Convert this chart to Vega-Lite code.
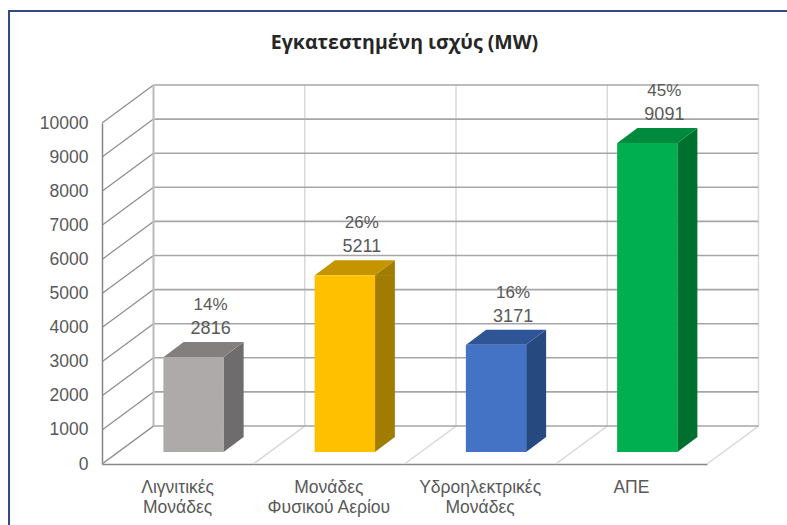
{"$schema":"https://vega.github.io/schema/vega-lite/v6.json","width":605,"height":341,"autosize":"none","padding":{"left":102,"top":123,"right":80,"bottom":61},"background":"white","view":{"stroke":null},
"config":{"axisY":{"labelFont":"Liberation Sans","labelFontSize":17.5,"labelColor":"#595959","labelPadding":14,"labelOverlap":false,"labelBound":false,"tickSize":0,"domainColor":"#868686","domainWidth":1.5,"grid":false}},
"title":{"text":"Εγκατεστημένη ισχύς (MW)","font":"Open Sans","fontSize":19.5,"fontWeight":"bold","color":"#262626","anchor":"middle","offset":-46},
"datasets":{"bars":[{"cat":"Λιγνιτικές Μονάδες","value":2816,"share":"14%"},{"cat":"Μονάδες Φυσικού Αερίου","value":5211,"share":"26%"},{"cat":"Υδροηλεκτρικές Μονάδες","value":3171,"share":"16%"},{"cat":"ΑΠΕ","value":9091,"share":"45%"}],
"ticks":[{"tick":0},{"tick":1000},{"tick":2000},{"tick":3000},{"tick":4000},{"tick":5000},{"tick":6000},{"tick":7000},{"tick":8000},{"tick":9000},{"tick":10000}]},
"resolve":{"scale":{"color":"independent"}},
"layer":[
{"data":{"name":"bars"},"mark":{"type":"point","shape":"M-75.6,0 L-24.1,-38 V-379","size":4,"filled":false,"opacity":1,"color":"#d9d9d9","strokeWidth":1.5},
 "encoding":{"x":{"field":"cat","type":"nominal","sort":null,"scale":{"paddingInner":0,"paddingOuter":0},"axis":{"title":null,"labelExpr":"split(replace(datum.label,' ','|'),'|')","labelAngle":0,"labelFont":"Liberation Sans","labelFontSize":17.5,"labelColor":"#595959","labelLineHeight":20.5,"labelPadding":14,"labelBaseline":"top","labelAlign":"center","labelOverlap":false,"labelBound":false,"labelLimit":0,"tickSize":0,"domainColor":"#868686","domainWidth":1.5,"grid":false}},
 "y":{"datum":0,"type":"quantitative","scale":{"domain":[0,10000],"nice":false},"axis":{"title":null,"format":"d","values":[0,1000,2000,3000,4000,5000,6000,7000,8000,9000,10000]}}}},
{"data":{"name":"bars"},"transform":[{"filter":"datum.cat === 'ΑΠΕ'"}],"mark":{"type":"point","shape":"M75.6,0 L127.1,-38 V-379","size":4,"filled":false,"opacity":1,"color":"#d9d9d9","strokeWidth":1.5},
 "encoding":{"x":{"field":"cat","type":"nominal","sort":null},"y":{"datum":0,"type":"quantitative","axis":{"title":null,"format":"d","values":[0,1000,2000,3000,4000,5000,6000,7000,8000,9000,10000]}}}},
{"data":{"name":"ticks"},"mark":{"type":"point","shape":"M-24.1,-38 H580.9","size":4,"filled":false,"opacity":1,"color":"#a6a6a6","strokeWidth":1.6},
 "encoding":{"x":{"datum":"Λιγνιτικές Μονάδες","type":"nominal"},"y":{"field":"tick","type":"quantitative","axis":{"title":null,"format":"d","values":[0,1000,2000,3000,4000,5000,6000,7000,8000,9000,10000]}}}},
{"data":{"name":"ticks"},"mark":{"type":"point","shape":"M-75.6,0 L-24.1,-38","size":4,"filled":false,"opacity":1,"color":"#8c8c8c","strokeWidth":1.2},
 "encoding":{"x":{"datum":"Λιγνιτικές Μονάδες","type":"nominal"},"y":{"field":"tick","type":"quantitative","axis":{"title":null,"format":"d","values":[0,1000,2000,3000,4000,5000,6000,7000,8000,9000,10000]}}}},
{"data":{"name":"ticks"},"transform":[{"filter":"datum.tick === 0"}],"mark":{"type":"point","shape":"M-24.1,-38 V-379","size":4,"filled":false,"opacity":1,"color":"#bfbfbf","strokeWidth":2},
 "encoding":{"x":{"datum":"Λιγνιτικές Μονάδες","type":"nominal"},"y":{"field":"tick","type":"quantitative","axis":{"title":null,"format":"d","values":[0,1000,2000,3000,4000,5000,6000,7000,8000,9000,10000]}}}},
{"data":{"name":"ticks"},"transform":[{"filter":"datum.tick === 0"}],"mark":{"type":"point","shape":"M-168.6,100 V-453 H700","size":4,"filled":false,"opacity":1,"color":"#2f4a7d","strokeWidth":2},
 "encoding":{"x":{"datum":"Λιγνιτικές Μονάδες","type":"nominal"},"y":{"field":"tick","type":"quantitative","axis":{"title":null,"format":"d","values":[0,1000,2000,3000,4000,5000,6000,7000,8000,9000,10000]}}}},
{"data":{"name":"bars"},"mark":{"type":"bar","width":20,"xOffset":56,"yOffset":-11,"y2Offset":-27},
 "encoding":{"x":{"field":"cat","type":"nominal","sort":null},"y":{"field":"value","type":"quantitative","axis":{"title":null,"format":"d","values":[0,1000,2000,3000,4000,5000,6000,7000,8000,9000,10000]}},"y2":{"datum":0},"color":{"field":"cat","type":"nominal","sort":null,"legend":null,"scale":{"range":["#6e6c6c","#a07c00","#264a80","#007030"]}}}},
{"data":{"name":"bars"},"mark":{"type":"point","shape":"M46,-11 L66,-26 V-10.5 H46 Z","size":4,"filled":true,"opacity":1},
 "encoding":{"x":{"field":"cat","type":"nominal","sort":null},"y":{"field":"value","type":"quantitative","axis":{"title":null,"format":"d","values":[0,1000,2000,3000,4000,5000,6000,7000,8000,9000,10000]}},"color":{"field":"cat","type":"nominal","sort":null,"legend":null,"scale":{"range":["#6e6c6c","#a07c00","#264a80","#007030"]}}}},
{"data":{"name":"bars"},"mark":{"type":"point","shape":"M46,-12 L66,-27 V-27.5 H46 Z","size":4,"filled":true,"opacity":1},
 "encoding":{"x":{"field":"cat","type":"nominal","sort":null},"y":{"datum":0,"type":"quantitative","axis":{"title":null,"format":"d","values":[0,1000,2000,3000,4000,5000,6000,7000,8000,9000,10000]}},"color":{"field":"cat","type":"nominal","sort":null,"legend":null,"scale":{"range":["#6e6c6c","#a07c00","#264a80","#007030"]}}}},
{"data":{"name":"bars"},"mark":{"type":"point","shape":"M-14,-11 L46,-11 L66,-26 L6,-26 Z","size":4,"filled":true,"opacity":1},
 "encoding":{"x":{"field":"cat","type":"nominal","sort":null},"y":{"field":"value","type":"quantitative","axis":{"title":null,"format":"d","values":[0,1000,2000,3000,4000,5000,6000,7000,8000,9000,10000]}},"color":{"field":"cat","type":"nominal","sort":null,"legend":null,"scale":{"range":["#837f7f","#c49500","#2f5597","#008a3e"]}}}},
{"data":{"name":"bars"},"mark":{"type":"bar","width":60.5,"xOffset":16,"yOffset":-11,"y2Offset":-12},
 "encoding":{"x":{"field":"cat","type":"nominal","sort":null},"y":{"field":"value","type":"quantitative","axis":{"title":null,"format":"d","values":[0,1000,2000,3000,4000,5000,6000,7000,8000,9000,10000]}},"y2":{"datum":0},"color":{"field":"cat","type":"nominal","sort":null,"legend":null,"scale":{"range":["#aeaaaa","#ffc000","#4472c4","#00b050"]}}}},
{"data":{"name":"bars"},"mark":{"type":"text","font":"Liberation Sans","fontSize":17,"color":"#595959","dx":33,"dy":-63,"baseline":"middle"},
 "encoding":{"x":{"field":"cat","type":"nominal","sort":null},"y":{"field":"value","type":"quantitative","axis":{"title":null,"format":"d","values":[0,1000,2000,3000,4000,5000,6000,7000,8000,9000,10000]}},"text":{"field":"share"}}},
{"data":{"name":"bars"},"mark":{"type":"text","font":"Liberation Sans","fontSize":18,"color":"#595959","dx":33,"dy":-39,"baseline":"middle"},
 "encoding":{"x":{"field":"cat","type":"nominal","sort":null},"y":{"field":"value","type":"quantitative","axis":{"title":null,"format":"d","values":[0,1000,2000,3000,4000,5000,6000,7000,8000,9000,10000]}},"text":{"field":"value"}}}
]}
